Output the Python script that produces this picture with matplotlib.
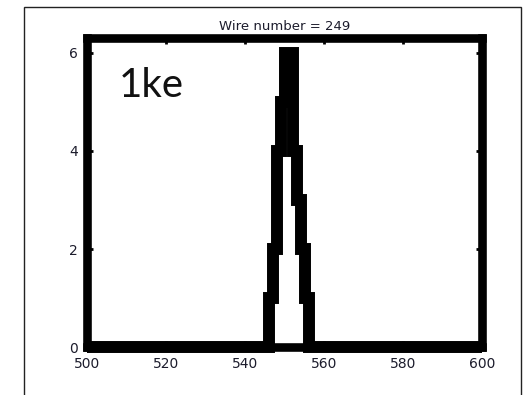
import matplotlib
matplotlib.use("Agg")
import matplotlib.pyplot as plt
import matplotlib.patches as patches
import numpy as np

# histogram of hit times on one wire
edges = list(range(545, 558))
counts = [0, 1, 2, 4, 5, 6, 6, 4, 3, 2, 1, 0]
xticks = [500, 520, 540, 560, 580, 600]
yticks = [0, 2, 4, 6]
wire = 249
label = "1ke"

plt.rcParams['font.family'] = ['DejaVu Sans']

fig = plt.figure(figsize=(5.26, 3.95), dpi=100, facecolor='white')
ax = fig.add_axes([0.1663, 0.1203, 0.7510, 0.7835])

# baseline runs across the whole range so the line covers the bottom edge
full_edges = [500] + edges + [600]
full_counts = [0] + counts + [0]
# merge neighbouring bins with equal counts (avoids miter spikes)
e_m, c_m = [full_edges[0]], [full_counts[0]]
for c, e in zip(full_counts[1:], full_edges[1:-1]):
    if c != c_m[-1]:
        e_m.append(e)
        c_m.append(c)
e_m.append(full_edges[-1])
ax.stairs(c_m, e_m, color='black', linewidth=8.6,
          baseline=None, clip_on=False, zorder=3)

ax.set_xlim(500, 600)
ax.set_ylim(0, 6.3)
ax.set_xticks(xticks)
ax.set_yticks(yticks)
for sp in ax.spines.values():
    sp.set_linewidth(6.2)
    sp.set_color('black')
ax.tick_params(direction='in', top=True, right=True, length=4.5, width=2,
               labelsize=10, labelcolor='#1c1c2c', pad=7)
ax.set_title(f"Wire number = {wire}", fontsize=9.5, color='#1c1c2c', pad=6)

ax.text(0.078, 0.81, label, transform=ax.transAxes, fontsize=29,
        family=['Lato', 'DejaVu Sans'], color='#111111', va='baseline')

# frame around the whole panel
frame = patches.Rectangle((0.0456, -0.1), 0.9449, 1.0823, transform=fig.transFigure,
                          fill=False, edgecolor='#222222', linewidth=1.0, clip_on=False)
fig.add_artist(frame)

fig.savefig("out.png", dpi=100)
